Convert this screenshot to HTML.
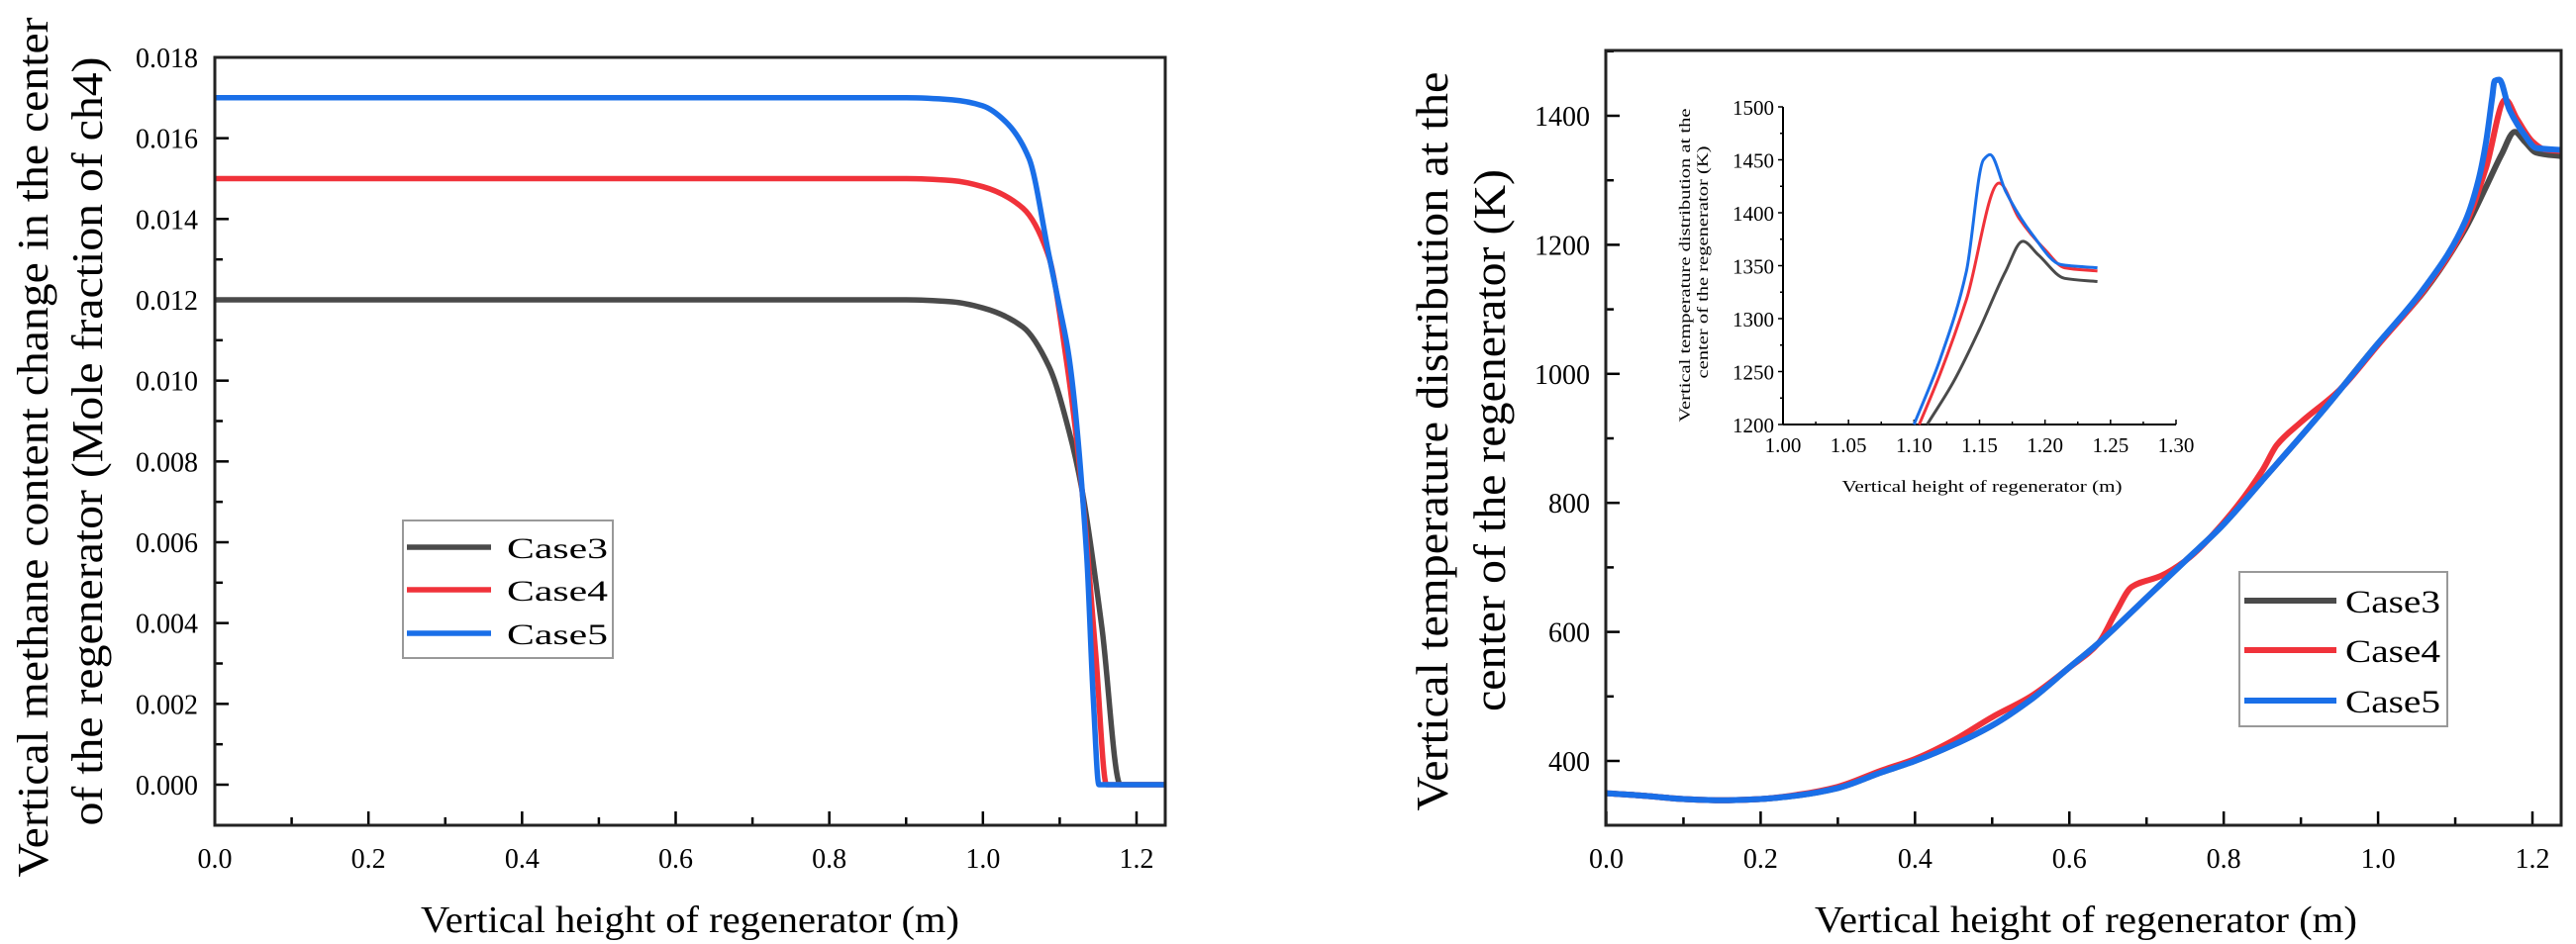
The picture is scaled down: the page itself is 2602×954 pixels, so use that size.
<!DOCTYPE html>
<html><head><meta charset="utf-8">
<style>
html,body{margin:0;padding:0;background:#fff;}
svg{display:block;}
text{font-family:"Liberation Serif",serif;fill:#000;}
</style></head>
<body>
<svg id="fig" xmlns="http://www.w3.org/2000/svg" width="2602" height="954" viewBox="0 0 2602 954">
<rect width="2602" height="954" fill="#fff"/>
<g id="left"></g>
<g id="right"></g>
<g id="inset"></g>
</svg>
<script>
// ---- Left chart data (methane mole fraction) ----
const leftXTicks = [0.0, 0.2, 0.4, 0.6, 0.8, 1.0, 1.2];
const leftYTicks = [0.000, 0.002, 0.004, 0.006, 0.008, 0.010, 0.012, 0.014, 0.016, 0.018];
const leftYLabels = ["0.000","0.002","0.004","0.006","0.008","0.010","0.012","0.014","0.016","0.018"];
const ch4Case3X = [0, 0.3, 0.6, 0.9, 0.96, 1.0, 1.052, 1.086, 1.112, 1.129, 1.155, 1.179, 1.2, 1.24];
const ch4Case3Y = [0.012, 0.012, 0.012, 0.012, 0.01195, 0.0118, 0.01133, 0.01035, 0.00876, 0.0073, 0.00387, 0, 0, 0];
const ch4Case4X = [0, 0.3, 0.6, 0.9, 0.96, 1.0, 1.052, 1.086, 1.108, 1.129, 1.147, 1.161, 1.2, 1.24];
const ch4Case4Y = [0.015, 0.015, 0.015, 0.015, 0.01495, 0.0148, 0.01427, 0.01305, 0.0106, 0.0073, 0.0032, 0, 0, 0];
const ch4Case5X = [0, 0.3, 0.6, 0.9, 0.96, 1.0, 1.03, 1.06, 1.086, 1.1, 1.112, 1.135, 1.144, 1.151, 1.2, 1.24];
const ch4Case5Y = [0.017, 0.017, 0.017, 0.017, 0.01695, 0.0168, 0.0164, 0.0155, 0.0131, 0.0118, 0.0106, 0.0057, 0.002, 0, 0, 0];

// ---- Right chart data (temperature) ----
const rightXTicks = [0.0, 0.2, 0.4, 0.6, 0.8, 1.0, 1.2];
const rightYTicks = [400, 600, 800, 1000, 1200, 1400];
const tCase5X = [0, 0.05, 0.1, 0.15, 0.2, 0.25, 0.3, 0.356, 0.4, 0.45, 0.5, 0.55, 0.596, 0.638, 0.7, 0.75, 0.796, 0.856, 0.93, 0.997, 1.061, 1.113, 1.13, 1.14, 1.148, 1.151, 1.157, 1.17, 1.19, 1.205, 1.24];
const tCase5Y = [350, 346, 341, 339, 341, 347, 358, 382, 400, 425, 455, 495, 541, 583, 653, 710, 762, 843, 945, 1043, 1135, 1237, 1300, 1360, 1430, 1454, 1456, 1410, 1370, 1350, 1347];
const tCase4X = [0, 0.05, 0.1, 0.15, 0.2, 0.25, 0.3, 0.356, 0.4, 0.45, 0.5, 0.55, 0.6, 0.638, 0.66, 0.681, 0.719, 0.75, 0.8, 0.85, 0.869, 0.9, 0.95, 1.0, 1.06, 1.113, 1.14, 1.165, 1.18, 1.2, 1.215, 1.24];
const tCase4Y = [350, 346, 341, 339, 341, 348, 360, 385, 403, 432, 468, 500, 545, 583, 630, 670, 687, 710, 770, 850, 890, 925, 975, 1045, 1130, 1230, 1320, 1425, 1395, 1360, 1348, 1345];
const tCase3X = [0, 0.05, 0.1, 0.15, 0.2, 0.25, 0.3, 0.356, 0.4, 0.45, 0.5, 0.55, 0.596, 0.638, 0.7, 0.75, 0.796, 0.856, 0.93, 0.997, 1.061, 1.113, 1.14, 1.16, 1.177, 1.19, 1.205, 1.24];
const tCase3Y = [350, 346, 341, 339, 341, 347, 358, 382, 400, 425, 455, 495, 541, 583, 653, 710, 762, 843, 945, 1043, 1130, 1225, 1290, 1340, 1375, 1360, 1343, 1337];

// ---- Inset data ----
const insetXTicks = [1.00, 1.05, 1.10, 1.15, 1.20, 1.25, 1.30];
const insetXLabels = ["1.00","1.05","1.10","1.15","1.20","1.25","1.30"];
const insetYTicks = [1200, 1250, 1300, 1350, 1400, 1450, 1500];
const iCase5X = [1.10, 1.12, 1.14, 1.153, 1.158, 1.17, 1.19, 1.212, 1.24];
const iCase5Y = [1200, 1262, 1345, 1450, 1455, 1420, 1380, 1351, 1348];
const iCase4X = [1.104, 1.12, 1.14, 1.165, 1.18, 1.20, 1.215, 1.24];
const iCase4Y = [1200, 1248, 1318, 1428, 1395, 1365, 1348, 1345];
const iCase3X = [1.11, 1.13, 1.15, 1.17, 1.183, 1.195, 1.215, 1.24];
const iCase3Y = [1200, 1240, 1290, 1345, 1373, 1360, 1338, 1335];

const NS = "http://www.w3.org/2000/svg";
function mk(parent, tag, attrs, txt) {
  const e = document.createElementNS(NS, tag);
  for (const k in attrs) e.setAttribute(k, attrs[k]);
  if (txt !== undefined) e.textContent = txt;
  parent.appendChild(e);
  return e;
}
function lin(d0, d1, r0, r1) { return v => r0 + (v - d0) / (d1 - d0) * (r1 - r0); }
// Monotone cubic (Fritsch-Carlson) in pixel space
function smoothPath(xs, ys, sx, sy) {
  const X = xs.map(sx), Y = ys.map(sy), n = X.length;
  const d = [], m = new Array(n);
  for (let i = 0; i < n - 1; i++) d.push((Y[i + 1] - Y[i]) / (X[i + 1] - X[i]));
  m[0] = d[0]; m[n - 1] = d[n - 2];
  for (let i = 1; i < n - 1; i++) {
    if (d[i - 1] * d[i] <= 0) m[i] = 0;
    else {
      const h0 = X[i] - X[i - 1], h1 = X[i + 1] - X[i];
      const w1 = 2 * h1 + h0, w2 = h1 + 2 * h0;
      m[i] = (w1 + w2) / (w1 / d[i - 1] + w2 / d[i]);
    }
  }
  let s = "M" + X[0].toFixed(1) + "," + Y[0].toFixed(1);
  for (let i = 0; i < n - 1; i++) {
    const h = X[i + 1] - X[i];
    s += "C" + (X[i] + h / 3).toFixed(1) + "," + (Y[i] + m[i] * h / 3).toFixed(1) + " " +
      (X[i + 1] - h / 3).toFixed(1) + "," + (Y[i + 1] - m[i + 1] * h / 3).toFixed(1) + " " +
      X[i + 1].toFixed(1) + "," + Y[i + 1].toFixed(1);
  }
  return s;
}
const COLORS = {c3: "#4a4a4a", c4: "#f0323a", c5: "#1a6fe8"};

// ================= LEFT =================
(function () {
  const g = document.getElementById("left");
  const L = 217, R = 1177, T = 58, B = 834;
  const sx = lin(0, 1.2, 217, 1148);
  const sy = lin(0, 0.018, 793, 58);
  mk(g, "clipPath", {id: "clipL"}).appendChild(document.createElementNS(NS, "rect"));
  const cr = g.querySelector("#clipL rect");
  cr.setAttribute("x", L); cr.setAttribute("y", T); cr.setAttribute("width", R - L); cr.setAttribute("height", B - T);
  for (let i = 0; i <= 13; i++) {
    const v = i * 0.1; const x = sx(v); if (x > R) continue;
    const t = mk(g, "line", {x1: x, x2: x, y1: B, y2: B - (i % 2 === 0 ? 14 : 8), stroke: "#000", "stroke-width": 2.5});
    
    
  }
  leftXTicks.forEach(v => {
    const t = mk(g, "text", {x: sx(v), y: 877, "font-size": 28, "text-anchor": "middle"}, v.toFixed(1));
    
    
  });
  for (let i = -1; i <= 18; i++) {
    const y = sy(i * 0.001);
    const t = mk(g, "line", {x1: L, x2: L + (i % 2 === 0 ? 14 : 8), y1: y, y2: y, stroke: "#000", "stroke-width": 2.5});
    
    
  }
  leftYTicks.forEach((v, i) => {
    const t = mk(g, "text", {x: 200, y: sy(v) + 10, "font-size": 28, "text-anchor": "end"}, leftYLabels[i]);
    
    
  });
  const series = [[ch4Case3X, ch4Case3Y, COLORS.c3, "case3"], [ch4Case4X, ch4Case4Y, COLORS.c4, "case4"], [ch4Case5X, ch4Case5Y, COLORS.c5, "case5"]];
  series.forEach(s => {
    const p = mk(g, "path", {d: smoothPath(s[0], s[1], sx, sy), fill: "none", stroke: s[2], "stroke-width": 5.5, "clip-path": "url(#clipL)", "stroke-linejoin": "round"});
    
    
  });
  const box = mk(g, "rect", {x: L, y: T, width: R - L, height: B - T, fill: "none", stroke: "#222", "stroke-width": 3});
  
  
  const xt = mk(g, "text", {x: 697, y: 942, "font-size": 38, "text-anchor": "middle", textLength: 544, lengthAdjust: "spacingAndGlyphs"}, "Vertical height of regenerator (m)");
  
  
  const y1 = mk(g, "text", {x: 0, y: 0, "font-size": 44, "text-anchor": "middle", transform: "translate(48,452) rotate(-90)", textLength: 869, lengthAdjust: "spacingAndGlyphs"}, "Vertical methane content change in the center");
  
  
  const y2 = mk(g, "text", {x: 0, y: 0, "font-size": 44, "text-anchor": "middle", transform: "translate(103,446) rotate(-90)", textLength: 777, lengthAdjust: "spacingAndGlyphs"}, "of the regenerator (Mole fraction of ch4)");
  
  
  const lg = mk(g, "g", {});
  
  
  mk(lg, "rect", {x: 407, y: 526, width: 212, height: 139, fill: "#fff", stroke: "#999", "stroke-width": 2});
  [["Case3", COLORS.c3, 553], ["Case4", COLORS.c4, 596], ["Case5", COLORS.c5, 640]].forEach(e => {
    const ent = mk(lg, "g", {});
    
    
    mk(ent, "line", {x1: 411, x2: 496, y1: e[2], y2: e[2], stroke: e[1], "stroke-width": 5.5});
    mk(ent, "text", {x: 512, y: e[2] + 11, "font-size": 30, "font-family": "Liberation Sans, sans-serif", fill: "#333", textLength: 102, lengthAdjust: "spacingAndGlyphs"}, e[0]);
  });
})();

// ================= RIGHT =================
(function () {
  const g = document.getElementById("right");
  const L = 1622, R = 2587, T = 51, B = 834;
  const sx = lin(0, 1.2, 1622.5, 2558);
  const sy = lin(400, 1400, 769, 117);
  mk(g, "clipPath", {id: "clipR"}).appendChild(document.createElementNS(NS, "rect"));
  const cr = g.querySelector("#clipR rect");
  cr.setAttribute("x", L); cr.setAttribute("y", T); cr.setAttribute("width", R - L); cr.setAttribute("height", B - T);
  for (let i = 0; i <= 13; i++) {
    const x = sx(i * 0.1); if (x > R) continue;
    const t = mk(g, "line", {x1: x, x2: x, y1: B, y2: B - (i % 2 === 0 ? 14 : 8), stroke: "#000", "stroke-width": 2.5});
    
    
  }
  rightXTicks.forEach(v => {
    const t = mk(g, "text", {x: sx(v), y: 877, "font-size": 28, "text-anchor": "middle"}, v.toFixed(1));
    
    
  });
  for (let i = 3; i <= 15; i++) {
    const y = sy(i * 100);
    const t = mk(g, "line", {x1: L, x2: L + (i % 2 === 0 ? 14 : 8), y1: y, y2: y, stroke: "#000", "stroke-width": 2.5});
    
    
  }
  rightYTicks.forEach(v => {
    const t = mk(g, "text", {x: 1606, y: sy(v) + 10, "font-size": 28, "text-anchor": "end"}, String(v));
    
    
  });
  const series = [[tCase3X, tCase3Y, COLORS.c3, "case3"], [tCase4X, tCase4Y, COLORS.c4, "case4"], [tCase5X, tCase5Y, COLORS.c5, "case5"]];
  series.forEach(s => {
    const p = mk(g, "path", {d: smoothPath(s[0], s[1], sx, sy), fill: "none", stroke: s[2], "stroke-width": 6, "clip-path": "url(#clipR)", "stroke-linejoin": "round"});
    
    
  });
  const box = mk(g, "rect", {x: L, y: T, width: R - L, height: B - T, fill: "none", stroke: "#222", "stroke-width": 3});
  
  
  const xt = mk(g, "text", {x: 2107, y: 942, "font-size": 38, "text-anchor": "middle", textLength: 548, lengthAdjust: "spacingAndGlyphs"}, "Vertical height of regenerator (m)");
  
  
  const y1 = mk(g, "text", {x: 0, y: 0, "font-size": 46, "text-anchor": "middle", transform: "translate(1462,446) rotate(-90)", textLength: 747, lengthAdjust: "spacingAndGlyphs"}, "Vertical temperature distribution at the");
  
  
  const y2 = mk(g, "text", {x: 0, y: 0, "font-size": 46, "text-anchor": "middle", transform: "translate(1520,445) rotate(-90)", textLength: 548, lengthAdjust: "spacingAndGlyphs"}, "center of the regenerator (K)");
  
  
  const lg = mk(g, "g", {});
  
  
  mk(lg, "rect", {x: 2262, y: 578, width: 210, height: 156, fill: "#fff", stroke: "#999", "stroke-width": 2});
  [["Case3", COLORS.c3, 607], ["Case4", COLORS.c4, 657], ["Case5", COLORS.c5, 708]].forEach(e => {
    const ent = mk(lg, "g", {});
    
    
    mk(ent, "line", {x1: 2267, x2: 2360, y1: e[2], y2: e[2], stroke: e[1], "stroke-width": 6});
    mk(ent, "text", {x: 2369, y: e[2] + 12, "font-size": 33, fill: "#222", textLength: 96, lengthAdjust: "spacingAndGlyphs"}, e[0]);
  });
})();

// ================= INSET =================
(function () {
  const g = document.getElementById("inset");
  const sx = lin(1.0, 1.3, 1801, 2198);
  const sy = lin(1200, 1500, 429, 108);
  mk(g, "line", {x1: 1801, x2: 1801, y1: 108, y2: 429, stroke: "#000", "stroke-width": 2});
  mk(g, "line", {x1: 1801, x2: 2198, y1: 429, y2: 429, stroke: "#000", "stroke-width": 2});
  for (let i = 0; i <= 12; i++) {
    const x = sx(1.0 + i * 0.025);
    const t = mk(g, "line", {x1: x, x2: x, y1: 429, y2: 429 - (i % 2 === 0 ? 5 : 3), stroke: "#000", "stroke-width": 1.5});
    
    
  }
  insetXTicks.forEach((v, i) => {
    const t = mk(g, "text", {x: sx(v), y: 457, "font-size": 21, "text-anchor": "middle"}, insetXLabels[i]);
    
    
  });
  for (let i = 0; i <= 12; i++) {
    const y = sy(1200 + i * 25);
    const t = mk(g, "line", {x1: 1801, x2: 1801 - (i % 2 === 0 ? 5 : 3), y1: y, y2: y, stroke: "#000", "stroke-width": 1.5});
    
    
  }
  insetYTicks.forEach(v => {
    const t = mk(g, "text", {x: 1792, y: sy(v) + 8, "font-size": 21, "text-anchor": "end"}, String(v));
    
    
  });
  const series = [[iCase3X, iCase3Y, COLORS.c3, "case3"], [iCase4X, iCase4Y, COLORS.c4, "case4"], [iCase5X, iCase5Y, COLORS.c5, "case5"]];
  series.forEach(s => {
    const p = mk(g, "path", {d: smoothPath(s[0], s[1], sx, sy), fill: "none", stroke: s[2], "stroke-width": 3, "stroke-linejoin": "round"});
    
    
  });
  const xt = mk(g, "text", {x: 2002, y: 497, "font-size": 17, "text-anchor": "middle", fill: "#222", textLength: 283, lengthAdjust: "spacingAndGlyphs"}, "Vertical height of regenerator (m)");
  
  
  const y1 = mk(g, "text", {x: 0, y: 0, "font-size": 16, "text-anchor": "middle", fill: "#222", transform: "translate(1707,268) rotate(-90)", textLength: 317, lengthAdjust: "spacingAndGlyphs"}, "Vertical temperature distribution at the");
  
  
  const y2 = mk(g, "text", {x: 0, y: 0, "font-size": 16, "text-anchor": "middle", fill: "#222", transform: "translate(1725,265) rotate(-90)", textLength: 235, lengthAdjust: "spacingAndGlyphs"}, "center of the regenerator (K)");
  
  
})();
</script>
</body></html>
